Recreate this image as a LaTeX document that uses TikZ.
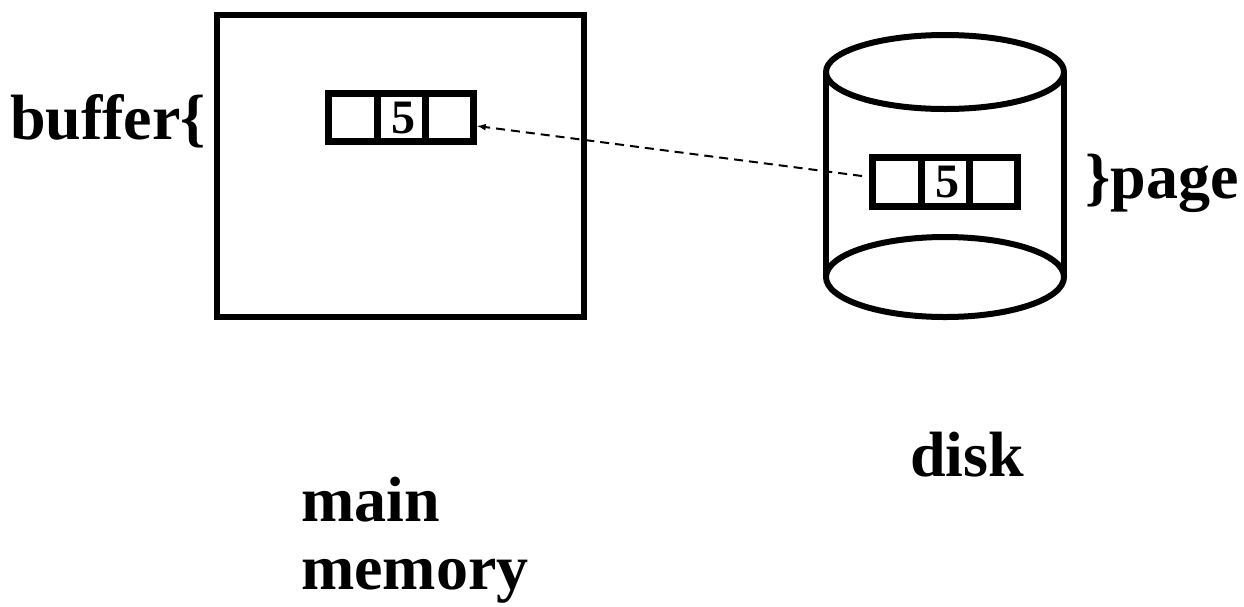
\documentclass[tikz,border=0pt]{standalone}
\usepackage{fontspec}
\setmainfont{Liberation Serif}
\begin{document}
\begin{tikzpicture}[x=1pt,y=-1pt,
  thick line/.style={line width=6pt},
  cellbox/.style={line width=7pt},
  lbl/.style={font=\fontsize{64}{72}\selectfont\bfseries, inner sep=0pt, anchor=base west},
  digit/.style={font=\fontsize{48}{52}\selectfont\bfseries, inner sep=0pt},
  link/.style={dashed, line width=2pt, dash pattern=on 9pt off 6pt, -latex}]
\useasboundingbox (0,0) rectangle (1244,606);
% main memory box
\draw[thick line] (217,15) rectangle (584,317);
% buffer
\draw[cellbox] (328.5,93.5) rectangle (473.5,141.5);
\draw[cellbox] (377,93.5) -- (377,141.5);
\draw[cellbox] (425,93.5) -- (425,141.5);
\node[digit] (b5) at (403,118) {5};
\coordinate (bufR) at (477,126);
% disk cylinder
\draw[thick line] (826,72) -- (826,277);
\draw[thick line] (1064,72) -- (1064,277);
\draw[thick line, fill=white] (945,72) ellipse [x radius=119, y radius=37];
\draw[thick line, fill=white] (945,277) ellipse [x radius=119, y radius=40];
% page
\draw[cellbox] (872.5,157.5) rectangle (1017.5,206.5);
\draw[cellbox] (921,157.5) -- (921,206.5);
\draw[cellbox] (969,157.5) -- (969,206.5);
\node[digit] (p5) at (947,182) {5};
\coordinate (pageL) at (862,176);
% connector
\draw[link] (pageL) -- (bufR);
% labels
\node[lbl] (buf) at (10,139) {buffer\{};
\node[lbl] (pg) at (1085,198) {\}page};
\node[lbl] (dsk) at (910,476) {disk};
\node[lbl] (mm1) at (301,521) {main};
\node[lbl] (mm2) at (301,589) {memory};
\end{tikzpicture}
\end{document}
